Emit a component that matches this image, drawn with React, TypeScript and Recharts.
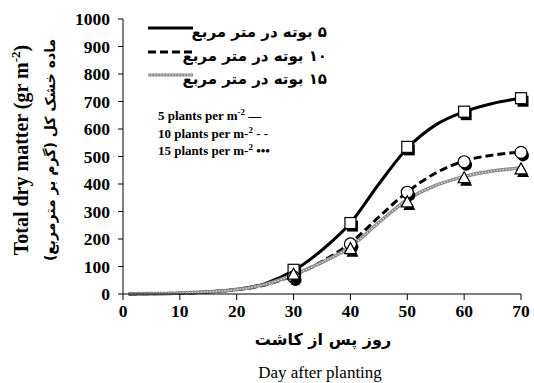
import { ComposedChart, Line, Scatter, XAxis, YAxis } from "recharts";

// fitted curves
const curveDays = [1, 5, 10, 15, 20, 25, 30, 35, 40, 45, 50, 55, 60, 65, 70];
const curve5 = [0, 1, 3, 7, 17, 38, 85, 160, 258, 400, 530, 615, 663, 693, 712];
const curve10 = [0, 1, 3, 7, 15, 33, 68, 118, 185, 280, 371, 440, 484, 505, 516];
const curve15 = [1, 2, 4, 8, 16, 35, 70, 115, 172, 260, 343, 395, 427, 447, 458];

// observed points
const obsDays = [30, 40, 50, 60, 70];
const obs5 = [88, 258, 535, 663, 712];
const obs10 = [62, 182, 370, 481, 515];
const obs15 = [72, 165, 335, 423, 455];

const xTicks = [0, 10, 20, 30, 40, 50, 60, 70];
const yTicks = [0, 100, 200, 300, 400, 500, 600, 700, 800, 900, 1000];

const persianLegend = ["۵ بوته در متر مربع", "۱۰ بوته در متر مربع", "۱۵ بوته در متر مربع"];
const englishLegend = ["5 plants per m", "10 plants per m-", "15 plants per m-"];
const englishMarks = ["—", "- -", "•••"];

const toPoints = (xs: number[], ys: number[]) => xs.map((x, i) => ({ x, y: ys[i] }));

const tickStyle = { fontFamily: "Liberation Serif", fontWeight: 700, fontSize: 17.5, fill: "#000" };
const serif = "'Liberation Serif', serif";
const persian = "'DejaVu Sans', sans-serif";

const Square = (p: any) => {
  const s = 5.5;
  return (
    <g>
      <rect x={p.cx - s + 2} y={p.cy - s + 3} width={2 * s} height={2 * s} fill="#000" />
      <rect x={p.cx - s} y={p.cy - s} width={2 * s} height={2 * s} fill="#fff" stroke="#000" strokeWidth={1.2} />
    </g>
  );
};

const Circ = (p: any) => (
  <g>
    <circle cx={p.cx + 2} cy={p.cy + 3} r={6} fill="#000" />
    <circle cx={p.cx} cy={p.cy} r={6} fill="#fff" stroke="#000" strokeWidth={1.2} />
  </g>
);

const Tri = (p: any) => {
  const tri = (dx: number, dy: number) =>
    `${p.cx + dx},${p.cy - 6 + dy} ${p.cx + 6 + dx},${p.cy + 5 + dy} ${p.cx - 6 + dx},${p.cy + 5 + dy}`;
  return (
    <g>
      <polygon points={tri(2, 3)} fill="#000" />
      <polygon points={tri(0, 0)} fill="#fff" stroke="#000" strokeWidth={1.2} />
    </g>
  );
};

export default function App() {
  return (
    <div style={{ position: "fixed", top: 0, left: 0, width: 534, height: 383, background: "#fff" }}>
      <ComposedChart width={534} height={383} margin={{ top: 19, right: 13, bottom: 59, left: 0 }}>
        <XAxis
          dataKey="x"
          type="number"
          domain={[0, 70]}
          ticks={xTicks}
          height={30}
          tick={tickStyle}
          tickSize={6}
          tickMargin={5}
          stroke="#000"
          allowDuplicatedCategory={false}
        />
        <YAxis
          type="number"
          domain={[0, 1000]}
          ticks={yTicks}
          width={123}
          tick={tickStyle}
          tickSize={5}
          tickMargin={8}
          stroke="#000"
        />
        <Line data={toPoints(curveDays, curve5)} dataKey="y" type="monotone" stroke="#000" strokeWidth={3} dot={false} isAnimationActive={false} />
        <Line data={toPoints(curveDays, curve10)} dataKey="y" type="monotone" stroke="#000" strokeWidth={3} strokeDasharray="8 4" dot={false} isAnimationActive={false} />
        <Line data={toPoints(curveDays, curve15)} dataKey="y" type="monotone" stroke="#8a8a8a" strokeWidth={3.5} dot={false} isAnimationActive={false} />
        <Line data={toPoints(curveDays, curve15)} dataKey="y" type="monotone" stroke="#e0e0e0" strokeWidth={1.2} strokeDasharray="1.5 1.5" dot={false} isAnimationActive={false} />
        <Scatter data={toPoints(obsDays, obs5)} dataKey="y" shape={Square} isAnimationActive={false} />
        <Scatter data={toPoints(obsDays, obs10)} dataKey="y" shape={Circ} isAnimationActive={false} />
        <Scatter data={toPoints(obsDays, obs15)} dataKey="y" shape={Tri} isAnimationActive={false} />
      </ComposedChart>

      {/* legend line samples */}
      <svg width={534} height={383} style={{ position: "absolute", top: 0, left: 0, pointerEvents: "none" }}>
        <line x1={148} x2={193} y1={28} y2={28} stroke="#000" strokeWidth={3} />
        <line x1={148} x2={193} y1={52} y2={52} stroke="#000" strokeWidth={3} strokeDasharray="8 4" />
        <line x1={148} x2={193} y1={75} y2={75} stroke="#8a8a8a" strokeWidth={3} />
        <line x1={148} x2={193} y1={75} y2={75} stroke="#e0e0e0" strokeWidth={1} strokeDasharray="1.5 1.5" />
      </svg>

      {persianLegend.map((t, i) => (
        <div
          key={t}
          dir="rtl"
          style={{
            position: "absolute",
            right: 534 - 327,
            top: 32 + i * 23.5,
            transform: "translateY(-50%)",
            fontFamily: persian,
            fontWeight: 700,
            fontSize: 15,
            whiteSpace: "nowrap",
            lineHeight: 1,
          }}
        >
          {t}
        </div>
      ))}

      {englishLegend.map((t, i) => (
        <div
          key={t}
          style={{
            position: "absolute",
            left: 158,
            top: 115 + i * 17.5,
            transform: "translateY(-50%)",
            fontFamily: serif,
            fontWeight: 700,
            fontSize: 13,
            whiteSpace: "nowrap",
            lineHeight: 1,
          }}
        >
          {t}
          <sup style={{ fontSize: 9 }}>{i === 0 ? "-2" : "2"}</sup> {englishMarks[i]}
        </div>
      ))}

      <div
        style={{
          position: "absolute",
          left: 20,
          top: 150,
          transform: "translate(-50%, -50%) rotate(-90deg)",
          fontFamily: serif,
          fontWeight: 700,
          fontSize: 20,
          whiteSpace: "nowrap",
          lineHeight: 1,
        }}
      >
        Total dry matter (gr m<sup style={{ fontSize: 13 }}>-2</sup>)
      </div>
      <div
        dir="rtl"
        style={{
          position: "absolute",
          left: 50,
          top: 150,
          transform: "translate(-50%, -50%) rotate(-90deg)",
          fontFamily: persian,
          fontWeight: 700,
          fontSize: 14,
          whiteSpace: "nowrap",
          lineHeight: 1,
        }}
      >
        ماده خشک کل (گرم بر مترمربع)
      </div>
      <div
        dir="rtl"
        style={{
          position: "absolute",
          left: 323,
          top: 340,
          transform: "translate(-50%, -50%)",
          fontFamily: persian,
          fontWeight: 700,
          fontSize: 16,
          whiteSpace: "nowrap",
          lineHeight: 1,
        }}
      >
        روز پس از کاشت
      </div>
      <div
        style={{
          position: "absolute",
          left: 320,
          top: 372,
          transform: "translate(-50%, -50%)",
          fontFamily: serif,
          fontSize: 17,
          whiteSpace: "nowrap",
          lineHeight: 1,
        }}
      >
        Day after planting
      </div>
    </div>
  );
}
